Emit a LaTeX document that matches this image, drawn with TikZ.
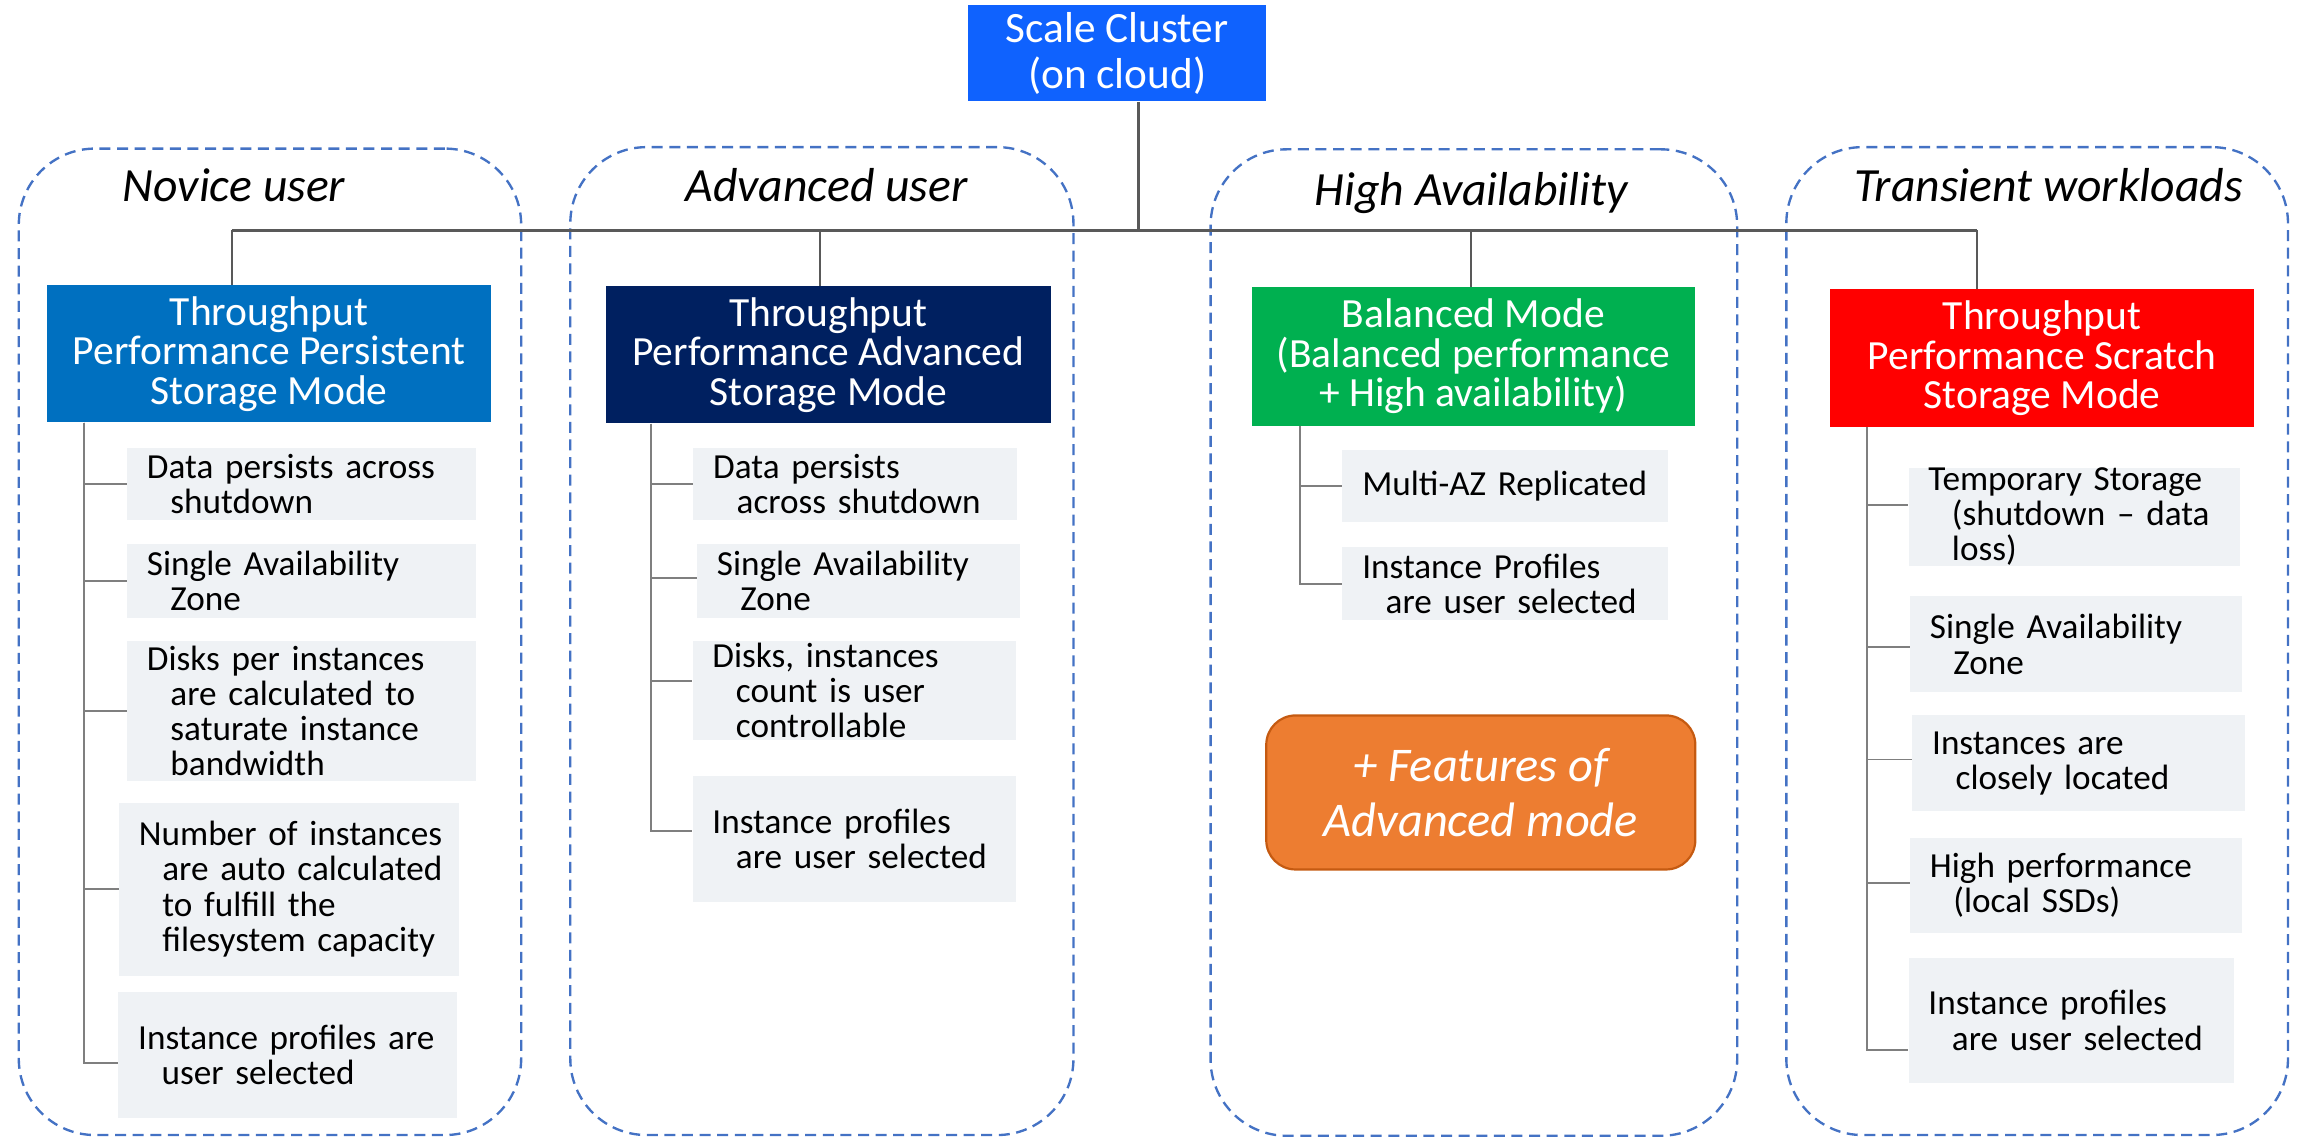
\documentclass[tikz,border=0pt]{standalone}
\usepackage{fontspec}
\setmainfont{Carlito}
\definecolor{scblue}{HTML}{0F62FE}
\definecolor{novblue}{HTML}{0070C0}
\definecolor{advnavy}{HTML}{002060}
\definecolor{balgreen}{HTML}{00B050}
\definecolor{scrred}{HTML}{FF0000}
\definecolor{featorange}{HTML}{ED7D31}
\definecolor{featborder}{HTML}{C55A11}
\definecolor{itemgray}{HTML}{EFF2F5}
\definecolor{dashblue}{HTML}{4472C4}
\definecolor{trunkgray}{HTML}{595959}
\definecolor{tickgray}{HTML}{7F7F7F}
\tikzset{grp/.style={draw=dashblue,line width=1.6pt,dash pattern=on 7.5pt off 4.5pt,rounded corners=52pt,anchor=north west,inner sep=0pt}}
\tikzset{hdr/.style={anchor=base,font=\fontsize{32.5}{32.5}\selectfont\itshape}}
\tikzset{mode/.style={anchor=north west,text=white,align=center,inner sep=0pt,font=\fontsize{28.3}{27}\selectfont}}
\tikzset{itm/.style={anchor=north west,fill=itemgray,align=left,inner xsep=0pt,inner ysep=0pt,font=\fontsize{24}{24}\selectfont}}
\tikzset{trunk/.style={draw=trunkgray,line width=2.2pt}}
\tikzset{stem/.style={draw=trunkgray,line width=1.6pt}}
\tikzset{tick/.style={draw=tickgray,line width=1.3pt}}
\newcommand{\fst}{\hspace*{13.5pt}}
\newcommand{\indt}{\hspace*{29.5pt}}

\begin{document}
\begin{tikzpicture}[x=1pt,y=-1pt]
        \useasboundingbox (0,0) rectangle (1568,775);

        % groups
        \node[grp,minimum width=342.5pt,minimum height=672.5pt] (G1) at (12,100.5) {};
        \node[grp,minimum width=343pt,minimum height=673.5pt] (G2) at (388,99.5) {};
        \node[grp,minimum width=359pt,minimum height=672.5pt] (G3) at (824.5,101) {};
        \node[grp,minimum width=342pt,minimum height=673.5pt] (G4) at (1217,99.5) {};

        \node[hdr] (h1) at (159.5,137.6) {Novice user};
        \node[hdr] (h2) at (563.5,137.6) {Advanced user};
        \node[hdr] (h3) at (1003,140) {High Availability};
        \node[hdr] (h4) at (1396.5,137.6) {Transient workloads};

        % top and modes
        \node[mode,fill=scblue,minimum width=203pt,minimum height=65.5pt,font=\fontsize{29.5}{31}\selectfont] (sc) at (660,3.5) {Scale Cluster\\(on cloud)};

        \node[mode,fill=novblue,minimum width=302.5pt,minimum height=93.4pt] (M1) at (32,194.4) {Throughput\\Performance Persistent\\Storage Mode};
        \node[mode,fill=advnavy,minimum width=303pt,minimum height=93.5pt] (M2) at (413,195) {Throughput\\Performance Advanced\\Storage Mode};
        \node[mode,fill=balgreen,minimum width=302.5pt,minimum height=94.4pt] (M3) at (853,195.6) {Balanced Mode\\(Balanced performance\\+ High availability)};
        \node[mode,fill=scrred,minimum width=289pt,minimum height=94pt] (M4) at (1247.5,197) {Throughput\\Performance Scratch\\Storage Mode};

        \coordinate (b0) at (776,157);
        \coordinate (b1) at (158,157);
        \coordinate (b2) at (559,157);
        \coordinate (b3) at (1003,157);
        \coordinate (b4) at (1348,157);

        \draw[trunk] (b0 |- sc.south) -- (b0);
        \draw[trunk] (b1) -- (b4);
        \draw[stem] (b1) -- (b1 |- M1.north);
        \draw[stem] (b2) -- (b2 |- M2.north);
        \draw[stem] (b3) -- (b3 |- M3.north);
        \draw[stem] (b4) -- (b4 |- M4.north);

        % novice items
        \node[itm,text width=238pt,minimum height=49.5pt] (N1) at (86.5,305) {\fst Data persists across\\\indt shutdown};
        \node[itm,text width=238pt,minimum height=50pt] (N2) at (86.5,371) {\fst Single Availability\\\indt Zone};
        \node[itm,text width=238pt,minimum height=95pt] (N3) at (86.5,437) {\fst Disks per instances\\\indt are calculated to\\\indt saturate instance\\\indt bandwidth};
        \node[itm,text width=232pt,minimum height=118pt] (N4) at (81,547) {\fst Number of instances\\\indt are auto calculated\\\indt to fulfill the\\\indt filesystem capacity};
        \node[itm,text width=231pt,minimum height=86pt] (N5) at (80.5,676) {\fst Instance profiles are\\\indt user selected};

        \coordinate (v1) at (57,0);
        \draw[tick] (M1.south -| v1) |- (N1.west);
        \draw[tick] (M1.south -| v1) |- (N2.west);
        \draw[tick] (M1.south -| v1) |- (N3.west);
        \draw[tick] (M1.south -| v1) |- (N4.west);
        \draw[tick] (M1.south -| v1) |- ([yshift=-5.5pt]N5.west);

        % advanced items
        \node[itm,text width=220.5pt,minimum height=49.5pt] (A1) at (472.5,305) {\fst Data persists\\\indt across shutdown};
        \node[itm,text width=220.5pt,minimum height=50.5pt] (A2) at (475,370.5) {\fst Single Availability\\\indt Zone};
        \node[itm,text width=220.5pt,minimum height=67.3pt] (A3) at (472,437) {\fst Disks, instances\\\indt count is user\\\indt controllable};
        \node[itm,text width=220.5pt,minimum height=85.7pt] (A4) at (472,529) {\fst Instance profiles\\\indt are user selected};

        \coordinate (v2) at (443.5,0);
        \draw[tick] (M2.south -| v2) |- (A1.west);
        \draw[tick] (M2.south -| v2) |- ([yshift=2pt]A2.west);
        \draw[tick] (M2.south -| v2) |- ([yshift=6.6pt]A3.west);
        \draw[tick] (M2.south -| v2) |- ([yshift=5.8pt]A4.west);

        % high availability items
        \node[itm,text width=222pt,minimum height=49.2pt] (H1) at (915,306.5) {\fst Multi-AZ Replicated};
        \node[itm,text width=222pt,minimum height=49.5pt] (H2) at (915,373) {\fst Instance Profiles\\\indt are user selected};

        \coordinate (v3) at (886,0);
        \draw[tick] (M3.south -| v3) |- (H1.west);
        \draw[tick] (M3.south -| v3) |- (H2.west);

        \node[anchor=north west,fill=featorange,draw=featborder,line width=1.5pt,rounded corners=20pt,minimum width=292.5pt,minimum height=105pt,text=white,align=center,font=\fontsize{33}{37.6}\selectfont\itshape] (F) at (862.5,487) {+ Features of\\Advanced mode};

        % scratch items
        \node[itm,text width=226pt,minimum height=66.4pt] (T1) at (1301,318.6) {\fst Temporary Storage\\\indt (shutdown -- data\\\indt loss)};
        \node[itm,text width=226.5pt,minimum height=65.3pt] (T2) at (1302,406.4) {\fst Single Availability\\\indt Zone};
        \node[itm,text width=226.5pt,minimum height=65.2pt] (T3) at (1303.5,487.5) {\fst Instances are\\\indt closely located};
        \node[itm,text width=226.5pt,minimum height=65.2pt] (T4) at (1302,570.8) {\fst High performance\\\indt (local SSDs)};
        \node[itm,text width=221.5pt,minimum height=85.6pt] (T5) at (1301,652.6) {\fst Instance profiles\\\indt are user selected};

        \coordinate (v4) at (1273,0);
        \draw[tick] (M4.south -| v4) |- ([yshift=7.8pt]T1.west);
        \draw[tick] (M4.south -| v4) |- ([yshift=-2pt]T2.west);
        \draw[tick] (M4.south -| v4) |- ([yshift=2.5pt]T3.west);
        \draw[tick] (M4.south -| v4) |- ([yshift=1.4pt]T4.west);
        \draw[tick] (M4.south -| v4) |- ([yshift=-20.2pt]T5.west);

    \end{tikzpicture}
\end{document}
